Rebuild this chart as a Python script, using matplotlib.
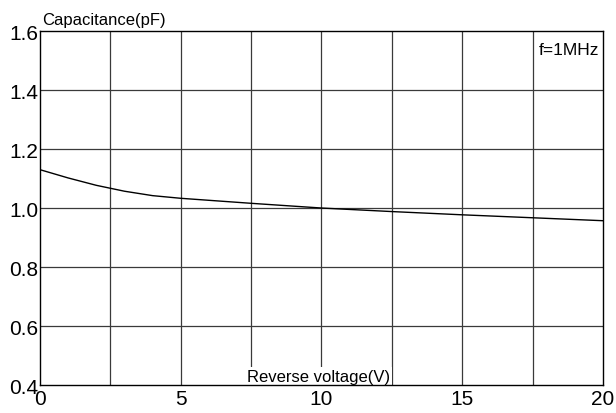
import numpy as np
import matplotlib
matplotlib.use('Agg')
import matplotlib.pyplot as plt

plt.rcParams['font.family'] = ['Liberation Sans', 'DejaVu Sans']

# datos
voltage = [0, 1, 2, 3, 4, 5, 7.5, 10, 12.5, 15, 17.5, 20]
capacitance = [1.130, 1.102, 1.077, 1.057, 1.042, 1.033, 1.016, 1.000, 0.988, 0.977, 0.967, 0.957]

x_ticks = [0, 5, 10, 15, 20]
y_ticks = [0.4, 0.6, 0.8, 1.0, 1.2, 1.4, 1.6]
x_grid = np.arange(0, 20.1, 2.5)

fig = plt.figure(figsize=(6.16, 4.14), dpi=100)
ax = fig.add_axes([0.0649, 0.0676, 0.914, 0.855])

ax.plot(voltage, capacitance, color='black', linewidth=1.0)

ax.set_xlim(0, 20)
ax.set_ylim(0.4, 1.6)

# rejilla
for xv in x_grid[1:-1]:
    ax.axvline(xv, color='#3a3a3a', linewidth=0.9, zorder=0)
for yv in y_ticks[1:-1]:
    ax.axhline(yv, color='#3a3a3a', linewidth=0.9, zorder=0)

ax.set_xticks(x_ticks)
ax.set_yticks(y_ticks)
ax.set_xticklabels([str(v) for v in x_ticks], fontsize=15)
ax.set_yticklabels(['%.1f' % v for v in y_ticks], fontsize=15)
ax.tick_params(axis='x', length=0, pad=3)
ax.tick_params(axis='y', length=0, pad=1)

for s in ax.spines.values():
    s.set_color('black')
    s.set_linewidth(1.0)

ax.text(0.004, 1.012, 'Capacitance(pF)', transform=ax.transAxes, fontsize=12,
        ha='left', va='bottom')
ax.text(0.993, 0.968, 'f=1MHz', transform=ax.transAxes, fontsize=12.5,
        ha='right', va='top')
ax.text(9.88, 0.405, 'Reverse voltage(V)', fontsize=12, ha='center', va='bottom',
        bbox=dict(facecolor='white', edgecolor='none', pad=1.5), zorder=1)

plt.savefig('out.png', dpi=100)
